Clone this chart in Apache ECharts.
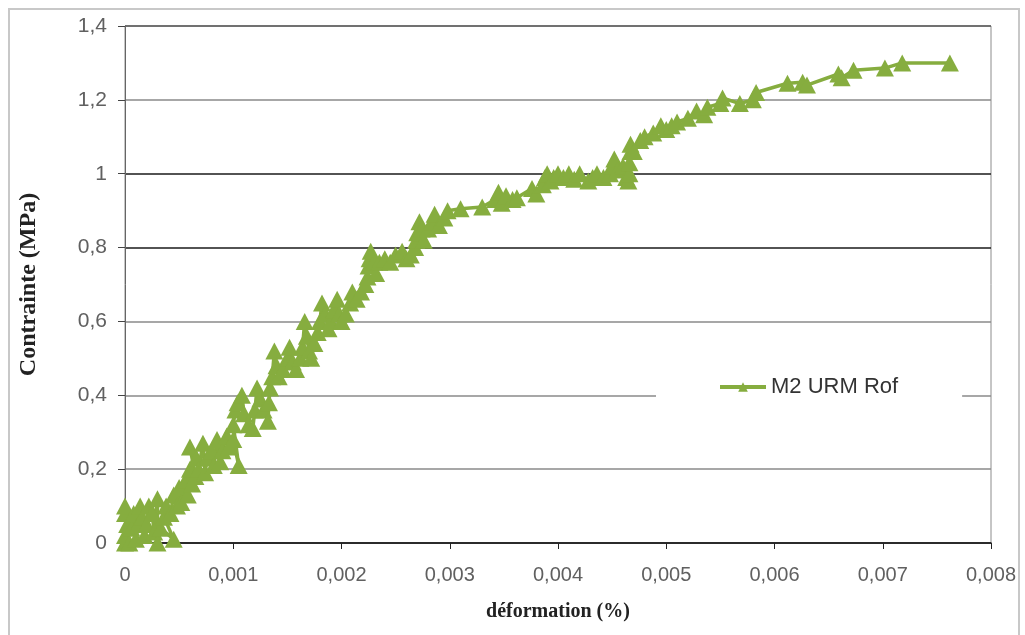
<!DOCTYPE html>
<html>
<head>
<meta charset="utf-8">
<script src="https://cdn.jsdelivr.net/npm/echarts@6/dist/echarts.min.js"></script>
<style>html,body{margin:0;padding:0;background:#fff}#c{width:1025px;height:635px}</style>
</head>
<body>
<div id="c"></div>
<script>
// strain in per-mille units (x 0.001) and stress in MPa
const strainPm = [0,0,0.04,0.02,0,0,0.06,0.08,0.1,0.12,0.14,0.16,0.18,0.2,0.22,0.25,0.27,0.3,0.3,0.33,0.45,0.36,0.38,0.42,0.45,0.48,0.5,0.52,0.56,0.58,0.6,0.62,0.65,0.6,0.66,0.68,0.72,0.74,0.76,0.8,0.82,0.85,0.88,0.9,0.94,0.96,1.0,1.05,1.0,1.02,1.04,1.08,1.1,1.14,1.18,1.2,1.22,1.25,1.28,1.32,1.33,1.34,1.36,1.38,1.4,1.42,1.46,1.5,1.52,1.55,1.58,1.62,1.64,1.66,1.68,1.7,1.72,1.75,1.78,1.8,1.82,1.85,1.88,1.9,1.93,1.96,1.98,2.0,2.04,2.08,2.1,2.14,2.18,2.22,2.24,2.25,2.26,2.27,2.3,2.32,2.35,2.4,2.45,2.5,2.56,2.6,2.64,2.68,2.69,2.7,2.72,2.74,2.76,2.8,2.84,2.86,2.9,2.95,2.98,3.1,3.3,3.42,3.45,3.48,3.52,3.58,3.62,3.76,3.8,3.86,3.88,3.9,3.93,3.96,4.0,4.05,4.1,4.15,4.2,4.28,4.32,4.36,4.42,4.48,4.5,4.52,4.55,4.6,4.63,4.65,4.66,4.66,4.67,4.67,4.7,4.76,4.8,4.88,4.95,5.0,5.05,5.1,5.2,5.28,5.35,5.38,5.5,5.52,5.68,5.8,5.83,6.12,6.26,6.3,6.59,6.62,6.73,7.02,7.18,7.62];
const stress = [0,0.02,0.0,0.05,0.08,0.1,0.04,0.08,0.01,0.05,0.1,0.07,0.02,0.05,0.1,0.08,0.03,0.12,0.0,0.04,0.01,0.07,0.1,0.08,0.13,0.1,0.15,0.11,0.17,0.13,0.2,0.16,0.18,0.26,0.23,0.2,0.27,0.19,0.23,0.25,0.21,0.28,0.22,0.25,0.29,0.26,0.28,0.21,0.32,0.36,0.38,0.4,0.35,0.32,0.31,0.36,0.42,0.39,0.36,0.33,0.38,0.42,0.45,0.52,0.48,0.45,0.47,0.5,0.53,0.49,0.47,0.5,0.53,0.6,0.56,0.52,0.5,0.54,0.57,0.6,0.65,0.62,0.58,0.6,0.63,0.66,0.62,0.6,0.62,0.65,0.68,0.66,0.68,0.7,0.72,0.75,0.77,0.79,0.76,0.73,0.76,0.77,0.76,0.78,0.79,0.77,0.78,0.8,0.82,0.84,0.87,0.85,0.82,0.85,0.87,0.89,0.86,0.88,0.9,0.905,0.91,0.93,0.95,0.92,0.94,0.93,0.935,0.96,0.945,0.97,0.99,1.0,0.98,0.99,1.0,0.99,1.0,0.985,1.0,0.98,0.99,1.0,0.99,1.0,1.02,1.04,1.01,1.02,0.99,0.98,1.0,1.03,1.06,1.08,1.06,1.09,1.1,1.11,1.13,1.12,1.13,1.14,1.15,1.17,1.16,1.18,1.19,1.205,1.19,1.2,1.22,1.245,1.248,1.24,1.27,1.26,1.28,1.286,1.3,1.3];
const seriesName = 'M2 URM Rof';
const xTitle = 'déformation (%)';
const yTitle = 'Contrainte (MPa)';

const data = strainPm.map((s, i) => [s / 1000, stress[i]]);
const comma = v => (v === 0 ? '0' : String(+v.toFixed(4)).replace('.', ','));

const chart = echarts.init(document.getElementById('c'));
chart.setOption({
  animation: false,
  backgroundColor: '#fff',
  graphic: [{
    type: 'rect', shape: { x: 9, y: 9, width: 1010, height: 660 },
    style: { fill: 'none', stroke: '#c8c8c8', lineWidth: 2 }, z: -1
  }],
  grid: { left: 125, right: 34, top: 26, bottom: 92, show: true, borderColor: '#8c8c8c', borderWidth: 1 },
  legend: {
    left: 656, top: 373, padding: [3, 64, 3, 62], backgroundColor: '#fff',
    itemWidth: 46, itemHeight: 12, itemGap: 4,
    lineStyle: { width: 4 },
    textStyle: { fontFamily: 'Liberation Sans, Arial', fontSize: 22, color: '#333' },
    data: [seriesName]
  },
  xAxis: {
    type: 'value', min: 0, max: 0.008, interval: 0.001,
    name: xTitle, nameLocation: 'middle', nameGap: 59,
    nameTextStyle: { fontFamily: 'Liberation Serif, Times New Roman', fontWeight: 'bold', fontSize: 20, color: '#222' },
    axisLine: { show: true, lineStyle: { color: '#222', width: 1.5 } },
    axisTick: { show: true, inside: false, length: 6, lineStyle: { color: '#222' } },
    axisLabel: { formatter: comma, margin: 22, fontFamily: 'Liberation Sans, Arial', fontSize: 20, color: '#606060' },
    splitLine: { show: false }
  },
  yAxis: {
    type: 'value', min: 0, max: 1.4, interval: 0.2,
    name: yTitle, nameLocation: 'middle', nameGap: 84, nameRotate: 90,
    nameTextStyle: { fontFamily: 'Liberation Serif, Times New Roman', fontWeight: 'bold', fontSize: 24, color: '#222' },
    axisLine: { show: true, lineStyle: { color: '#666', width: 1 } },
    axisTick: { show: true, inside: false, length: 7, lineStyle: { color: '#444' } },
    axisLabel: { formatter: comma, margin: 18, fontFamily: 'Liberation Sans, Arial', fontSize: 21, color: '#606060' },
    splitLine: { show: true, lineStyle: { width: 1.5, color: ['#222', '#8a8a8a', '#8a8a8a', '#8a8a8a', '#1a1a1a', '#1a1a1a', '#8a8a8a', '#555'] } }
  },
  series: [{
    name: seriesName, type: 'line', data: data,
    symbol: 'triangle', symbolSize: [18, 17], showAllSymbol: true,
    itemStyle: { color: '#86ad3f' },
    lineStyle: { color: '#86ad3f', width: 3.5 },
    z: 3
  }]
});
</script>
</body>
</html>
